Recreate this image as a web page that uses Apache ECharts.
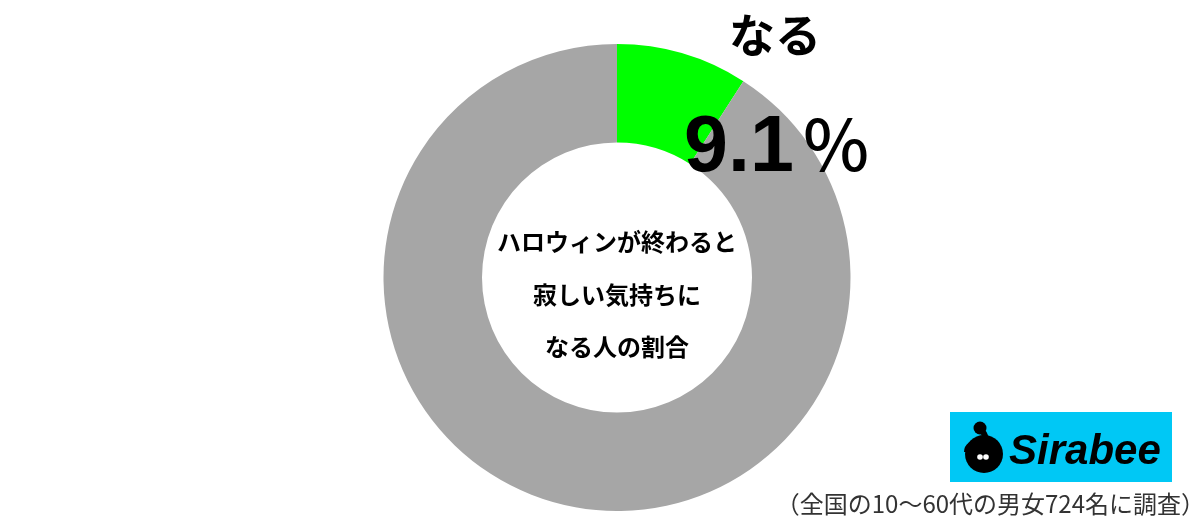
<!DOCTYPE html>
<html>
<head>
<meta charset="utf-8">
<script src="https://cdn.jsdelivr.net/npm/echarts@6/dist/echarts.min.js"></script>
<style>
html,body{margin:0;padding:0;background:#fff;}
#c{width:1200px;height:522px;}
</style>
</head>
<body>
<div id="c"></div>
<script>
const categories = ['なる', 'ならない'];
const values = [9.1, 90.9];
const colors = ['#00ff00', '#a6a6a6'];
const centerLines = ['ハロウィンが終わると', '寂しい気持ちに', 'なる人の割合'];
const footnote = '（全国の10〜60代の男女724名に調査）';
const brand = 'Sirabee';

const JP = '"Noto Sans CJK JP", "Noto Sans", sans-serif';
const LS = '"Liberation Sans", Arial, sans-serif';
const chart = echarts.init(document.getElementById('c'), null, {renderer: 'canvas'});

const graphics = [
  {
    type: 'text', left: 729, top: 12, z: 100,
    style: {text: categories[0], font: 'bold 46px ' + JP, fill: '#000'}
  },
  {
    type: 'text', x: 684, y: 189, z: 100,
    style: {text: values[0].toFixed(1), font: 'bold 79px ' + LS, fill: '#000', verticalAlign: 'bottom'}
  },
  {
    type: 'text', x: 801, y: 180, z: 100,
    style: {text: '％', font: '500 70px ' + JP, fill: '#000', verticalAlign: 'bottom'}
  },
  {
    type: 'text', x: 617, y: 242, z: 100,
    style: {text: centerLines[0], font: 'bold 24px ' + JP, fill: '#000', align: 'center', verticalAlign: 'middle'}
  },
  {
    type: 'text', x: 617, y: 295, z: 100,
    style: {text: centerLines[1], font: 'bold 24px ' + JP, fill: '#000', align: 'center', verticalAlign: 'middle'}
  },
  {
    type: 'text', x: 617, y: 347, z: 100,
    style: {text: centerLines[2], font: 'bold 24px ' + JP, fill: '#000', align: 'center', verticalAlign: 'middle'}
  },
  {
    type: 'text', x: 1205, y: 504, z: 100,
    style: {text: footnote, font: '24px ' + JP, fill: '#333', align: 'right', verticalAlign: 'middle'}
  },
  // logo
  {
    type: 'rect', z: 100, shape: {x: 950, y: 412, width: 222, height: 70},
    style: {fill: '#00c8f5'}
  },
  {
    type: 'circle', z: 101, shape: {cx: 984, cy: 454, r: 19}, style: {fill: '#000'}
  },
  {
    type: 'circle', z: 101, shape: {cx: 980, cy: 428, r: 6.5}, style: {fill: '#000'}
  },
  {
    type: 'bezierCurve', z: 101,
    shape: {x1: 982, y1: 431, x2: 967, y2: 452, cpx1: 994, cpy1: 444, cpx2: 967, cpy2: 438},
    style: {stroke: '#000', lineWidth: 6, fill: null}
  },
  {
    type: 'circle', z: 102, shape: {cx: 980, cy: 457, r: 2.8}, style: {fill: '#fff'}
  },
  {
    type: 'circle', z: 102, shape: {cx: 986, cy: 457, r: 2.8}, style: {fill: '#fff'}
  },
  {
    type: 'text', x: 1009, y: 452, z: 101,
    style: {text: brand, font: 'italic bold 42px ' + LS, fill: '#000', verticalAlign: 'middle'}
  }
];

chart.setOption({
  animation: false,
  backgroundColor: '#ffffff',
  series: [{
    type: 'pie',
    z: 1,
    center: [617, 277.5],
    radius: [135, 233.5],
    startAngle: 90,
    clockwise: true,
    silent: true,
    label: {show: false},
    labelLine: {show: false},
    itemStyle: {borderWidth: 0},
    data: categories.map((c, i) => ({name: c, value: values[i], itemStyle: {color: colors[i]}}))
  }],
  graphic: graphics
});
</script>
</body>
</html>
